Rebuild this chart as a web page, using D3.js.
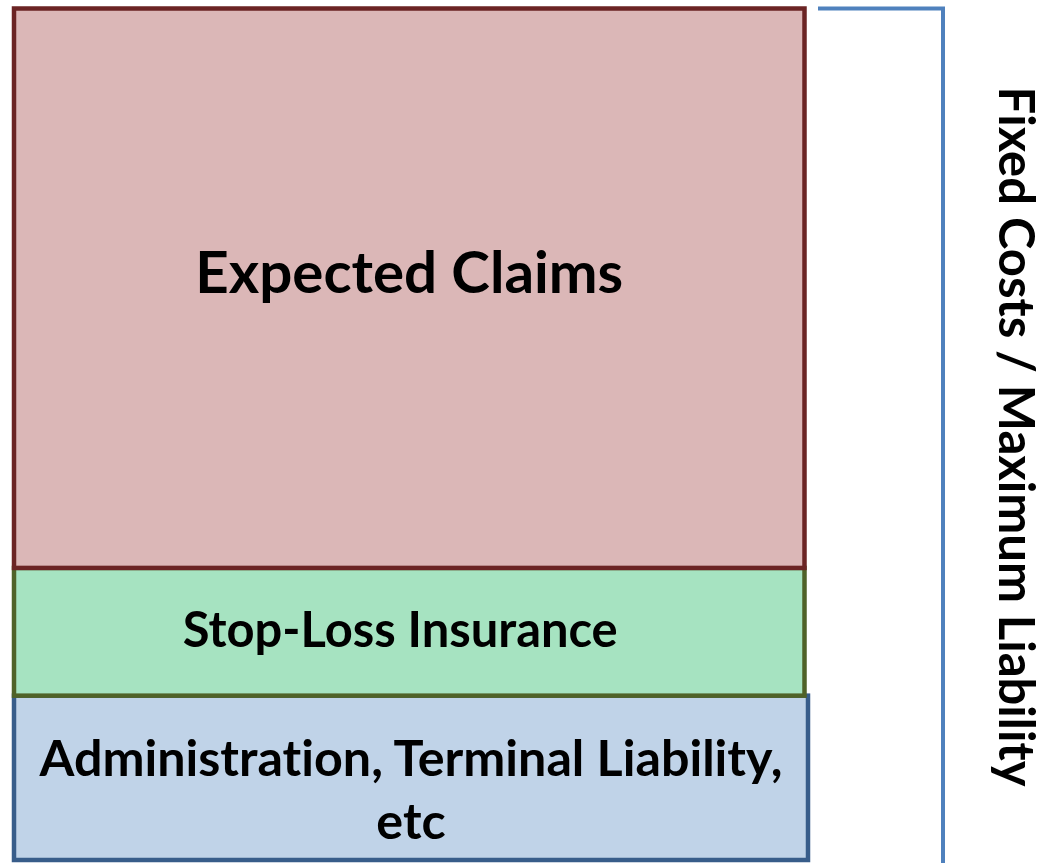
<!DOCTYPE html>
<html>
<head>
<meta charset="utf-8">
<script src="https://cdn.jsdelivr.net/npm/d3@7"></script>
<style>
  body { margin: 0; background: #fff; }
  svg { display: block; }
  text { font-family: Lato, "Open Sans", sans-serif; font-weight: bold; fill: #000; font-variant-ligatures: none; }
</style>
</head>
<body>
<div id="chart"></div>
<script>
// cost layers, bottom to top (share of total premium, %)
const layers = ["Administration, Terminal Liability, etc", "Stop-Loss Insurance", "Expected Claims"];
const shares = [19.3, 15.0, 65.7];
const labelLines = [["Administration, Terminal Liability,", "etc"], ["Stop-Loss Insurance"], ["Expected Claims"]];
const bracketLabel = "Fixed Costs / Maximum Liability";

const fills = ["#c0d3e8", "#a6e3c1", "#dbb7b7"];
const strokes = ["#385d8a", "#4f6228", "#6b2424"];

const width = 1046, height = 863;

const svg = d3.select("#chart").append("svg")
  .attr("width", width)
  .attr("height", height);

// stack
let acc = 0;
const stacked = shares.map((v, i) => {
  const d = { name: layers[i], y0: acc, y1: acc + v, idx: i };
  acc += v;
  return d;
});

const y = d3.scaleLinear()
  .domain([0, d3.sum(shares)])
  .range([860, 8.5]);

const x0 = 14;
const boxRight = [808, 804.5, 804.5];

svg.append("g")
  .selectAll("rect")
  .data(stacked)
  .enter()
  .append("rect")
  .attr("x", x0)
  .attr("y", d => y(d.y1))
  .attr("width", d => boxRight[d.idx] - x0)
  .attr("height", d => y(d.y0) - y(d.y1))
  .attr("fill", d => fills[d.idx])
  .attr("stroke", d => strokes[d.idx])
  .attr("stroke-width", 4.5);

// fit a text element to a target width by scaling its font size
function fitWidth(sel, target) {
  const node = sel.node();
  const w = node.getComputedTextLength();
  const fs = parseFloat(sel.style("font-size"));
  sel.style("font-size", (fs * target / w) + "px");
}

const targetWidth = [743, 435, 428];
const lineGap = [63, 0, 0];
const nudge = [10, -4, -18];
const nudgeX = [0, -9, 0];
const labels = svg.append("g");
stacked.forEach(d => {
  const lines = labelLines[d.idx];
  const cx = (x0 + boxRight[d.idx]) / 2 + nudgeX[d.idx];
  const cy = (y(d.y0) + y(d.y1)) / 2 + nudge[d.idx];
  const n = lines.length;
  let fsFirst = null;
  lines.forEach((ln, j) => {
    const t = labels.append("text")
      .attr("x", cx)
      .attr("y", cy + (j - (n - 1) / 2) * lineGap[d.idx])
      .attr("text-anchor", "middle")
      .attr("dominant-baseline", "central")
      .style("font-size", "40px")
      .text(ln);
    if (j === 0) {
      fitWidth(t, targetWidth[d.idx]);
      fsFirst = t.style("font-size");
    } else {
      t.style("font-size", fsFirst);
    }
  });
});

// bracket on the right
const bx = 943;
svg.append("path")
  .attr("d", `M818,${y(d3.sum(shares))}H${bx}V${height + 5}`)
  .attr("fill", "none")
  .attr("stroke", "#4f81bd")
  .attr("stroke-width", 4);

const side = svg.append("text")
  .attr("transform", `translate(1018, ${(85 + 788) / 2}) rotate(90)`)
  .attr("text-anchor", "middle")
  .attr("dominant-baseline", "central")
  .style("font-size", "40px")
  .text(bracketLabel);
fitWidth(side, 700);
</script>
</body>
</html>
